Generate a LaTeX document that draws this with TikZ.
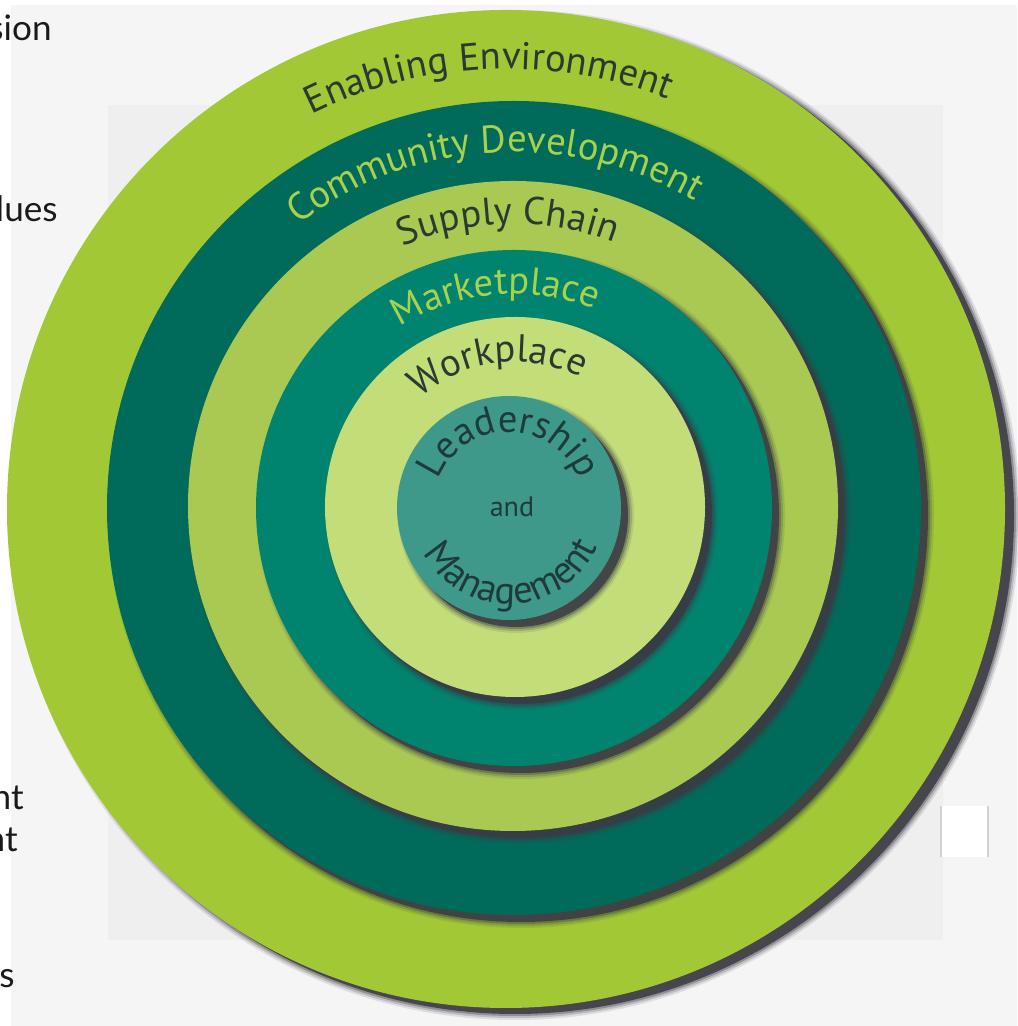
\documentclass[tikz,border=0pt]{standalone}
\usepackage{fontspec}
\setmainfont{PT Sans}
\newfontfamily\sidefont{Lato}
\usetikzlibrary{decorations.text}

\definecolor{paper}{HTML}{F5F5F6}
\definecolor{panel}{HTML}{EFEFEF}
\definecolor{limeouter}{HTML}{A2C935}
\definecolor{pinegreen}{HTML}{006B5A}
\definecolor{sagering}{HTML}{A9C952}
\definecolor{tealring}{HTML}{00836F}
\definecolor{palelime}{HTML}{C3DE79}
\definecolor{coreteal}{HTML}{3F998A}
\definecolor{dropgrey}{HTML}{3A3A44}
\definecolor{inkdark}{HTML}{2B3933}
\definecolor{inklight}{HTML}{A8D24C}
\definecolor{coreink}{HTML}{1F3A3A}
\definecolor{sideink}{HTML}{1A1A1A}

% disc with a soft drop shadow: {cx}{cy}{radius}{fill}{dx}{dy}
\newcommand\shadeddisc[6]{%
  \fill[fill=dropgrey, opacity=0.12] (#1+#5,#2+#6) circle[radius=#3+6];
  \fill[fill=dropgrey, opacity=0.2] (#1+#5,#2+#6) circle[radius=#3+4];
  \fill[fill=dropgrey, opacity=0.35] (#1+#5,#2+#6) circle[radius=#3+2];
  \fill[fill=dropgrey, opacity=0.85] (#1+#5,#2+#6) circle[radius=#3];
  \fill[fill=#4] (#1,#2) circle[radius=#3];
}

\tikzset{
  sidelabel/.style={anchor=base east, inner sep=0pt, text=sideink,
    font=\sidefont\fontsize{20}{22}\selectfont}
}

\begin{document}
\begin{tikzpicture}[x=0.02cm, y=0.02cm]
  \useasboundingbox (0,0) rectangle (1017,1026);
  % paper and the grey panel behind the rings
  \fill[white] (0,0) rectangle (1017,1026);
  \fill[paper] (11,0) rectangle (1017,1021);
  \fill[panel] (108,86) rectangle (943,921);

  % side captions running in from the left
  \node[sidelabel] (cap1) at (52,985) {sion};
  \node[sidelabel] (cap2) at (58,804) {lues};
  \node[sidelabel] (cap3) at (24,216) {nt};
  \node[sidelabel] (cap4) at (18,174) {nt};
  \node[sidelabel] (cap5) at (15,38) {s};

  % small white card on the right
  \fill[white] (941,169) rectangle (988,220);
  \draw[black!18, line width=1pt] (941,169) -- (941,220) (988,169) -- (988,220);

  % nested discs, outermost first
  \shadeddisc{506}{517}{499}{limeouter}{9}{-6}
  \shadeddisc{514}{518}{407}{pinegreen}{7}{-7}
  \shadeddisc{513}{520}{325}{sagering}{7}{-7}
  \shadeddisc{514}{518}{258}{tealring}{7}{-7}
  \shadeddisc{515}{519}{190}{palelime}{7}{-7}
  \shadeddisc{509}{518}{112}{coreteal}{7}{-7}

  % curved ring titles
  \path[shift={(507,517)}, decorate, decoration={text along path, text align=center,
      text color=inkdark, text={|\fontsize{22}{24}\selectfont|Enabling Environment}}]
      (152.5:440) arc[start angle=152.5, end angle=32.5, radius=440];
  \path[shift={(514,518)}, decorate, decoration={text along path, text align=center,
      text color=inklight, text={|\fontsize{22}{24}\selectfont|Community Development}}]
      (163.4:356) arc[start angle=163.4, end angle=23.4, radius=356];
  \path[shift={(513,520)}, decorate, decoration={text along path, text align=center,
      text color=inkdark, text={|\fontsize{22}{24}\selectfont|Supply Chain}}]
      (151:282) arc[start angle=151, end angle=31, radius=282];
  \path[shift={(514,518)}, decorate, decoration={text along path, text align=center,
      text color=inklight, text={|\fontsize{22}{24}\selectfont|Marketplace}}]
      (165:214) arc[start angle=165, end angle=25, radius=214];
  \path[shift={(515,519)}, decorate, decoration={text along path, text align=center,
      text color=inkdark, text={|\fontsize{22}{24}\selectfont|Workplace}}]
      (177:145) arc[start angle=177, end angle=17, radius=145];
  \path[shift={(509,518)}, decorate, decoration={text along path, text align=center,
      text color=coreink, text={|\fontsize{22}{24}\selectfont|Leadership}}]
      (181:76) arc[start angle=181, end angle=-1, radius=76];
  \path[shift={(509,518)}, decorate, decoration={text along path, text align=center,
      text color=coreink, text={|\fontsize{22}{24}\selectfont|Management}}]
      (182:96) arc[start angle=182, end angle=362, radius=96];
  \node[text=coreink, font=\fontsize{16}{18}\selectfont, inner sep=0pt] (core) at (512,519) {and};
\end{tikzpicture}
\end{document}
